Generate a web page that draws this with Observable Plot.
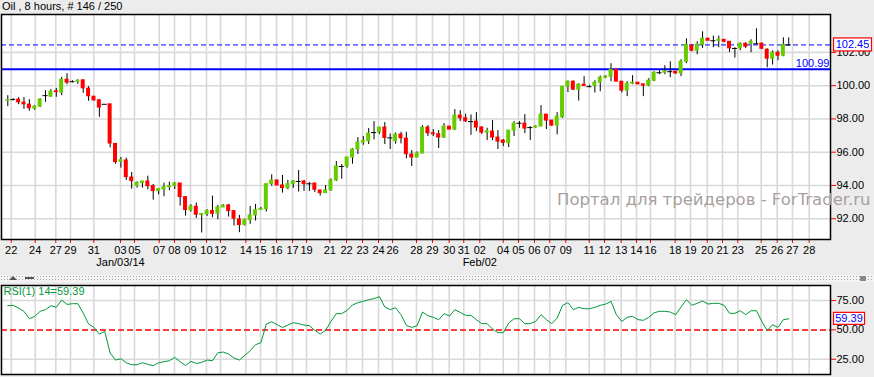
<!DOCTYPE html>
<html><head><meta charset="utf-8">
<script src="https://cdn.jsdelivr.net/npm/d3@7"></script>
<script src="https://cdn.jsdelivr.net/npm/@observablehq/plot@0.6"></script>
<style>
html,body{margin:0;padding:0;background:#ececec;}
body{width:874px;height:377px;position:relative;overflow:hidden;font-family:"Liberation Sans",Arial,sans-serif;}
#title{position:absolute;left:2px;top:0px;font-size:11px;line-height:13px;color:#000;white-space:nowrap;}
#main{position:absolute;left:0;top:0;}
#rsi{position:absolute;left:0;top:282px;}
#split{position:absolute;left:0;top:275px;width:874px;height:7px;background-color:#f3f3f3;background-image:radial-gradient(circle,#a8a8a8 0.7px,transparent 0.9px);background-size:3px 3px;}
.tri-up{position:absolute;left:9px;top:276px;width:0;height:0;border-left:4px solid transparent;border-right:4px solid transparent;border-bottom:4px solid #555;}
.tri-dn{position:absolute;left:25px;top:277px;width:9px;height:0;border-top:2px solid #555;}
.sq{position:absolute;left:860px;top:276px;width:6px;height:5px;background:#888;}
#wm{position:absolute;left:557px;top:191px;font-family:"DejaVu Sans",Verdana,sans-serif;font-size:16.5px;line-height:17px;color:#a89f9f;white-space:nowrap;pointer-events:none;}
svg{overflow:visible;}
</style></head><body>
<div id="title">Oil , 8 hours, # 146 / 250</div>
<div id="split"></div>
<div class="tri-up"></div><div class="tri-dn"></div><div class="sq"></div>
<div id="main"></div>
<div id="rsi"></div>
<div id="wm">Портал для трейдеров - ForTrader.ru</div>
<script>
// ---- data (8-hour bars, index 0..145) ----
const opens = [99.10,99.16,99.16,98.98,98.86,98.62,98.74,99.40,99.34,99.66,
99.58,100.36,100.24,100.24,100.32,99.82,99.34,99.12,98.88,98.88,
96.50,95.42,95.50,94.48,93.98,94.14,94.24,93.96,93.66,93.76,
93.90,93.98,94.12,93.30,92.50,92.72,92.22,92.28,92.46,92.30,
92.68,92.80,92.46,91.96,91.62,91.92,92.20,92.52,92.58,94.08,
94.30,94.00,93.84,94.08,94.24,94.24,94.10,94.12,93.70,93.54,
93.70,94.30,95.14,95.14,95.68,96.16,96.58,96.66,97.18,97.18,
97.48,96.86,96.66,97.06,96.82,95.86,95.68,95.92,97.48,97.14,
97.08,96.88,97.54,97.36,98.20,98.04,97.84,97.84,97.48,97.18,
97.24,96.88,96.70,96.54,97.30,97.74,97.72,97.48,97.48,97.54,
98.26,97.90,97.60,98.10,99.94,100.24,99.76,100.06,99.94,100.00,
100.18,100.48,100.54,100.96,100.24,99.70,100.12,100.18,100.08,100.00,
100.30,100.78,100.78,100.84,100.84,100.74,101.44,102.40,102.10,102.46,
102.82,102.70,102.70,102.76,102.64,102.24,102.24,102.52,102.52,102.52,
102.52,102.16,101.62,101.98,101.80,102.45];
const highs = [99.40,99.22,99.28,99.28,99.16,98.80,99.22,99.70,99.76,99.84,
100.50,100.72,100.30,100.36,100.36,99.94,99.34,99.18,98.88,98.88,
96.50,95.68,95.64,94.78,94.22,94.24,94.56,94.06,93.82,94.14,
94.20,94.18,94.12,93.30,92.84,92.94,92.32,92.54,93.36,92.80,
92.86,92.86,92.46,92.20,91.98,92.74,92.86,92.68,94.08,94.64,
94.32,94.60,94.30,94.30,94.90,94.30,94.18,94.12,93.70,94.00,
94.40,95.44,95.26,95.68,96.22,96.88,96.94,97.42,97.84,97.48,
97.78,97.10,97.16,97.20,97.20,96.10,96.02,97.60,97.60,97.36,
97.30,97.72,97.54,98.56,98.50,98.28,98.24,98.38,97.54,97.44,
97.90,97.30,96.76,97.30,97.84,97.84,98.26,97.54,97.58,98.80,
98.26,97.90,98.38,99.94,100.28,100.28,100.12,100.54,100.02,100.30,
100.58,100.60,101.32,100.96,100.24,100.24,100.60,100.18,100.08,100.42,
100.84,100.90,101.20,101.44,100.84,101.56,102.82,102.46,102.64,103.24,
102.86,102.98,102.98,102.76,102.64,102.28,102.58,102.58,102.76,103.42,
102.58,102.22,102.10,102.10,102.88,102.88];
const lows = [98.74,99.10,98.86,98.58,98.46,98.52,98.68,99.00,99.30,99.30,
99.40,100.06,100.16,100.08,99.54,99.06,99.06,98.10,98.88,96.26,
95.28,95.04,94.30,93.78,93.84,93.84,93.74,93.12,93.44,93.32,
93.68,93.76,92.76,92.16,92.40,92.02,91.14,92.14,92.06,91.94,
92.66,92.10,91.56,91.16,91.56,91.66,91.86,92.52,92.40,93.96,
94.00,93.54,93.74,93.82,93.60,93.64,93.64,93.58,93.36,93.54,
93.64,94.24,94.38,95.04,95.28,95.86,96.42,96.46,96.74,97.06,
96.46,96.16,96.48,96.50,95.60,95.14,95.66,95.90,96.94,96.94,
96.22,96.82,97.36,97.30,97.84,97.78,97.02,97.24,97.06,96.70,
96.70,96.16,96.34,96.28,96.94,97.44,97.12,96.70,97.44,97.54,
97.36,97.54,97.04,98.02,99.58,99.70,99.08,99.94,99.88,99.56,
99.64,100.42,100.24,100.24,99.56,99.34,100.06,100.06,99.34,99.94,
100.24,100.66,100.66,100.48,100.68,100.54,101.32,102.04,101.86,102.24,
102.70,102.28,102.28,102.58,102.00,101.66,102.10,102.24,101.98,102.46,
102.16,101.08,101.24,101.50,101.74,102.40];
const closes = [99.14,99.16,99.00,98.88,98.64,98.74,99.16,99.40,99.64,99.62,
100.36,100.18,100.24,100.30,99.84,99.36,99.12,98.68,98.88,96.52,
95.40,95.52,94.50,94.26,94.16,94.24,93.96,93.66,93.78,93.90,
93.96,94.12,93.30,92.52,92.74,92.24,92.28,92.46,92.30,92.68,
92.78,92.46,92.00,91.62,91.92,92.20,92.52,92.58,94.08,94.30,
94.00,93.84,94.08,94.24,94.24,94.08,94.10,93.74,93.54,93.70,
94.30,95.14,95.14,95.68,96.16,96.58,96.68,97.12,97.18,97.48,
96.86,96.86,97.06,96.84,95.88,95.68,95.92,97.48,97.14,97.08,
96.88,97.54,97.36,98.20,98.04,97.86,97.84,97.48,97.18,97.26,
96.88,96.64,96.56,97.30,97.72,97.74,97.42,97.48,97.54,98.26,
97.90,97.60,98.14,99.94,100.24,99.76,100.06,99.98,99.94,100.18,
100.48,100.54,100.96,100.24,99.70,100.12,100.18,100.08,100.00,100.30,
100.78,100.78,100.86,100.84,100.74,101.44,102.46,102.10,102.46,102.82,
102.70,102.70,102.76,102.64,102.24,102.24,102.52,102.34,102.64,102.52,
102.22,101.62,101.98,101.80,102.46,102.45];
const rsiValues = [70.6,70.9,68.6,65.8,59.5,61.5,65.8,67.2,70.6,69.2,
75.4,71.7,72.3,72.3,64.3,55.0,52.1,46.4,48.7,30.3,
24.3,25.4,22.0,20.3,20.3,22.0,20.6,19.5,22.0,22.9,
23.7,26.6,22.9,19.7,23.2,21.4,22.3,24.3,23.7,30.5,
31.1,29.4,26.0,24.3,28.3,32.2,37.4,39.1,55.0,56.9,
54.4,52.1,54.1,56.1,55.3,54.1,53.6,49.6,46.4,49.6,
57.2,63.8,63.8,66.6,71.2,73.2,74.3,75.7,76.6,78.3,
69.5,67.2,68.9,62.9,53.8,52.1,53.6,65.2,62.1,60.7,
58.7,63.8,61.8,67.2,64.9,62.4,62.4,58.7,55.3,55.3,
50.7,47.6,47.6,55.8,59.5,59.5,55.3,55.3,57.2,62.9,
58.7,55.3,60.1,70.9,73.2,67.2,69.2,68.0,68.0,69.2,
70.9,72.0,74.3,62.9,57.2,60.7,61.5,58.7,58.1,60.7,
64.6,65.8,65.8,65.2,62.9,69.5,75.7,70.9,72.6,74.6,
72.0,72.6,72.6,70.9,64.1,64.1,66.3,62.9,66.3,66.3,
57.2,49.3,54.4,52.1,58.7,59.39];
// day ticks (bar index where each day starts) and their labels
const dayTickIndex = [0.63,5.09,8.91,11.64,15.97,20.92,23.52,28.11,30.95,33.92,36.89,39.49,44.19,46.92,49.89,52.86,55.46,59.78,62.89,65.86,68.83,71.43,75.88,78.85,81.95,84.66,87.63,91.98,94.82,97.79,100.63,103.60,107.95,110.79,113.89,116.73,119.33,123.91,126.76,129.86,132.70,135.54,139.88,142.85,145.69,148.79];
const dayTickLabels = ["22","24","27","29","31","03","05","07","08","09","10","12","14","15","16","17","19","21","22","23","24","26","28","29","30","31","02","04","05","06","07","09","11","12","13","14","16","18","19","20","21","23","25","26","27","28"];
const monthTickIndex = [20.92, 87.63];
const monthLabels = ["Jan/03/14", "Feb/02"];
const priceTicks = [92, 94, 96, 98, 100, 102];
const rsiTicks = [25, 50, 75];
const currentPrice = 102.45;
const levelPrice = 100.99;
const rsiLevel = 50;

// ---- build ----
const GREEN = "#66cc00", RED = "#ff0000", GRID = "#d9d9d9", BLUE = "#0000ff", RSI_COLOR = "#00993a";
const bars = opens.map((o, i) => ({i, o, h: highs[i], l: lows[i], c: closes[i]}));
const ups = bars.filter(d => d.c > d.o);
const downs = bars.filter(d => d.c < d.o);
const dojis = bars.filter(d => d.c === d.o);
const labelOf = new Map(dayTickIndex.map((t, k) => [t, dayTickLabels[k]]));
const X_DOMAIN = [-1.17, 152.75];
const FONT = "'Liberation Sans', Arial, sans-serif";
const half = 0.37;

const main = Plot.plot({
  width: 874, height: 272,
  marginTop: 14, marginBottom: 33, marginLeft: 1, marginRight: 44,
  style: {background: "transparent", fontFamily: FONT, fontSize: "11px", color: "black", overflow: "visible"},
  x: {domain: X_DOMAIN},
  y: {domain: [90.75, 104.28]},
  marks: [
    Plot.frame({fill: "white", stroke: "none"}),
    Plot.ruleX(dayTickIndex, {stroke: GRID, strokeWidth: 1.6}),
    Plot.ruleY(priceTicks, {stroke: GRID, strokeWidth: 1.6}),
    Plot.ruleY([currentPrice], {stroke: BLUE, strokeDasharray: "5,3", strokeWidth: 1}),
    Plot.ruleY([levelPrice], {stroke: BLUE, strokeWidth: 2}),
    Plot.ruleX(bars, {x: "i", y1: "l", y2: "h", stroke: "black", strokeWidth: 1}),
    Plot.rect(ups, {x1: d => d.i - half, x2: d => d.i + half, y1: "o", y2: "c", fill: GREEN, insetTop: -0.5, insetBottom: -0.5}),
    Plot.rect(downs, {x1: d => d.i - half, x2: d => d.i + half, y1: "o", y2: "c", fill: RED, insetTop: -0.5, insetBottom: -0.5}),
    Plot.ruleY(dojis, {y: "c", x1: d => d.i - half - 0.1, x2: d => d.i + half + 0.1, stroke: "black", strokeWidth: 1}),
    Plot.text([levelPrice], {y: d => d, frameAnchor: "right", text: d => d.toFixed(2), textAnchor: "end", dx: -1, dy: -5.5, fill: BLUE, fontSize: 11}),
    Plot.axisY({anchor: "right", ticks: priceTicks, tickFormat: d => d.toFixed(2), tickSize: 5, tickPadding: 1, stroke: RED, fill: "black", label: null}),
    Plot.axisX({ticks: dayTickIndex, tickFormat: d => labelOf.get(d), tickSize: 4, tickPadding: 3, stroke: RED, fill: "black", label: null}),
    Plot.text(monthTickIndex, {x: d => d, frameAnchor: "bottom", text: (d, k) => monthLabels[k], dy: 26.5, fill: "black", fontSize: 11}),
    Plot.frame({stroke: "black", strokeWidth: 1.5})
  ]
});
document.getElementById("main").appendChild(main);

// current price box on the price scale
{
  const yv = main.scale("y").apply(currentPrice);
  const g = d3.select(main).append("g");
  g.append("rect").attr("x", 833.5).attr("y", yv - 6.5).attr("width", 38).attr("height", 13)
    .attr("fill", "white").attr("stroke", RED).attr("stroke-width", 1.2);
  g.append("text").attr("x", 852.5).attr("y", yv + 4).attr("text-anchor", "middle")
    .attr("fill", BLUE).attr("font-size", 11).attr("font-family", FONT).text(currentPrice.toFixed(2));
}

const lastRsi = rsiValues[rsiValues.length - 1];
const rsiPlot = Plot.plot({
  width: 874, height: 95,
  marginTop: 3, marginBottom: 3, marginLeft: 1, marginRight: 44,
  style: {background: "transparent", fontFamily: FONT, fontSize: "11px", color: "black", overflow: "visible"},
  x: {domain: X_DOMAIN, axis: null},
  y: {domain: [12, 87.8]},
  marks: [
    Plot.frame({fill: "white", stroke: "none"}),
    Plot.ruleX(dayTickIndex, {stroke: GRID, strokeWidth: 1.6}),
    Plot.ruleY([25, 75], {stroke: GRID, strokeWidth: 1.6}),
    Plot.ruleY([rsiLevel], {stroke: RED, strokeDasharray: "6,3", strokeWidth: 1.5}),
    Plot.line(rsiValues, {x: (d, k) => k, y: d => d, stroke: RSI_COLOR, strokeWidth: 1}),
    Plot.text([`RSI(1) 14=${lastRsi.toFixed(2)}`], {frameAnchor: "top-left", text: d => d, textAnchor: "start", lineAnchor: "top", dx: 2, dy: 1.5, fill: RSI_COLOR, fontSize: 11}),
    Plot.axisY({anchor: "right", ticks: rsiTicks, tickFormat: d => d.toFixed(2), tickSize: 5, tickPadding: 1, stroke: RED, fill: "black", label: null}),
    Plot.frame({stroke: "black", strokeWidth: 1.5})
  ]
});
document.getElementById("rsi").appendChild(rsiPlot);
{
  const yv = rsiPlot.scale("y").apply(lastRsi);
  const g = d3.select(rsiPlot).append("g");
  g.append("rect").attr("x", 833.5).attr("y", yv - 6).attr("width", 31).attr("height", 12)
    .attr("fill", "white").attr("stroke", RED).attr("stroke-width", 1.2);
  g.append("text").attr("x", 849).attr("y", yv + 4).attr("text-anchor", "middle")
    .attr("fill", BLUE).attr("font-size", 11).attr("font-family", FONT).text(lastRsi.toFixed(2));
}
</script>
</body></html>
